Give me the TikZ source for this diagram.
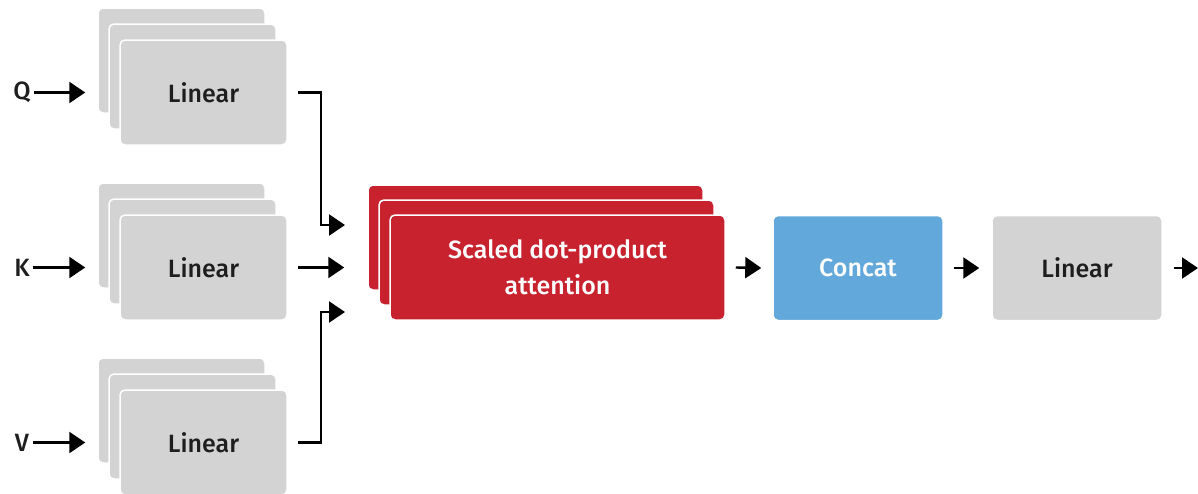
\documentclass[tikz,border=0pt]{standalone}
\usepackage{fontspec}
\setmainfont{Fira Sans Medium}
\usetikzlibrary{arrows.meta,calc}
\definecolor{boxgray}{HTML}{D3D3D3}
\definecolor{attred}{HTML}{C8222E}
\definecolor{catblue}{HTML}{62A8DA}
\definecolor{txtdark}{HTML}{1E1E1E}
\tikzset{
  box/.style={rounded corners=5pt, draw=white, line width=1.5pt, minimum height=105pt, inner sep=0pt},
  linbox/.style={box, fill=boxgray, minimum width=167pt, text=txtdark},
  attbox/.style={box, fill=attred, minimum width=335pt, text=white, align=center},
  catbox/.style={box, fill=catblue, minimum width=170pt, text=white},
  arr/.style={line width=2.4pt, -{Triangle[length=16pt,width=21pt]}},
  lbl/.style={text=txtdark},
}
\begin{document}
\begin{tikzpicture}[x=1pt,y=-1pt,font=\fontsize{25}{36}\selectfont]
        \useasboundingbox (0,0) rectangle (1198,493);
        %% query stack
        \node[linbox] (qback) at (181.5,60.5) {};
        \node[linbox] (qmid) at (192.5,76.5) {};
        \node[linbox] (q) at (203.5,92.5) {Linear};
        %% key stack
        \node[linbox] (kback) at (181.5,235.5) {};
        \node[linbox] (kmid) at (192.5,251.5) {};
        \node[linbox] (k) at (203.5,267.5) {Linear};
        %% value stack
        \node[linbox] (vback) at (181.5,410.5) {};
        \node[linbox] (vmid) at (192.5,426.5) {};
        \node[linbox] (v) at (203.5,442.5) {Linear};
        %% inputs
        \node[lbl] (qlab) at (22,92.5) {Q};
        \node[lbl] (klab) at (22,267.5) {K};
        \node[lbl] (vlab) at (22,442.5) {V};
        \draw[arr] (qlab.east) -- ([xshift=-12pt]qback.west |- qlab.east);
        \draw[arr] (klab.east) -- ([xshift=-12pt]kback.west |- klab.east);
        \draw[arr] (vlab.east) -- ([xshift=-12pt]vback.west |- vlab.east);
        %% attention heads
        \node[attbox] (attback) at (535.5,237.5) {};
        \node[attbox] (attmid) at (546.5,252.5) {};
        \node[attbox] (att) at (557.5,267.5) {Scaled dot-product\\attention};
        \coordinate (qin) at (345,225);
        \coordinate (vin) at (345,312);
        \draw[arr] ([xshift=10pt]q.east) -- ++(23,0) |- (qin);
        \draw[arr] ([xshift=10pt]k.east) -- ([xshift=-45pt]att.west);
        \draw[arr] ([xshift=10pt]v.east) -- ++(23,0) |- (vin);
        %% output
        \node[catbox] (cat) at (858,268) {Concat};
        \node[linbox,minimum width=170pt] (lin) at (1077,268) {Linear};
        \coordinate (out) at (1198,268);
        \draw[arr] ([xshift=10pt]att.east) -- ([xshift=-11pt]cat.west);
        \draw[arr] ([xshift=10pt]cat.east) -- ([xshift=-12pt]lin.west);
        \draw[arr] ([xshift=11pt]lin.east) -- (out);
    \end{tikzpicture}
\end{document}
